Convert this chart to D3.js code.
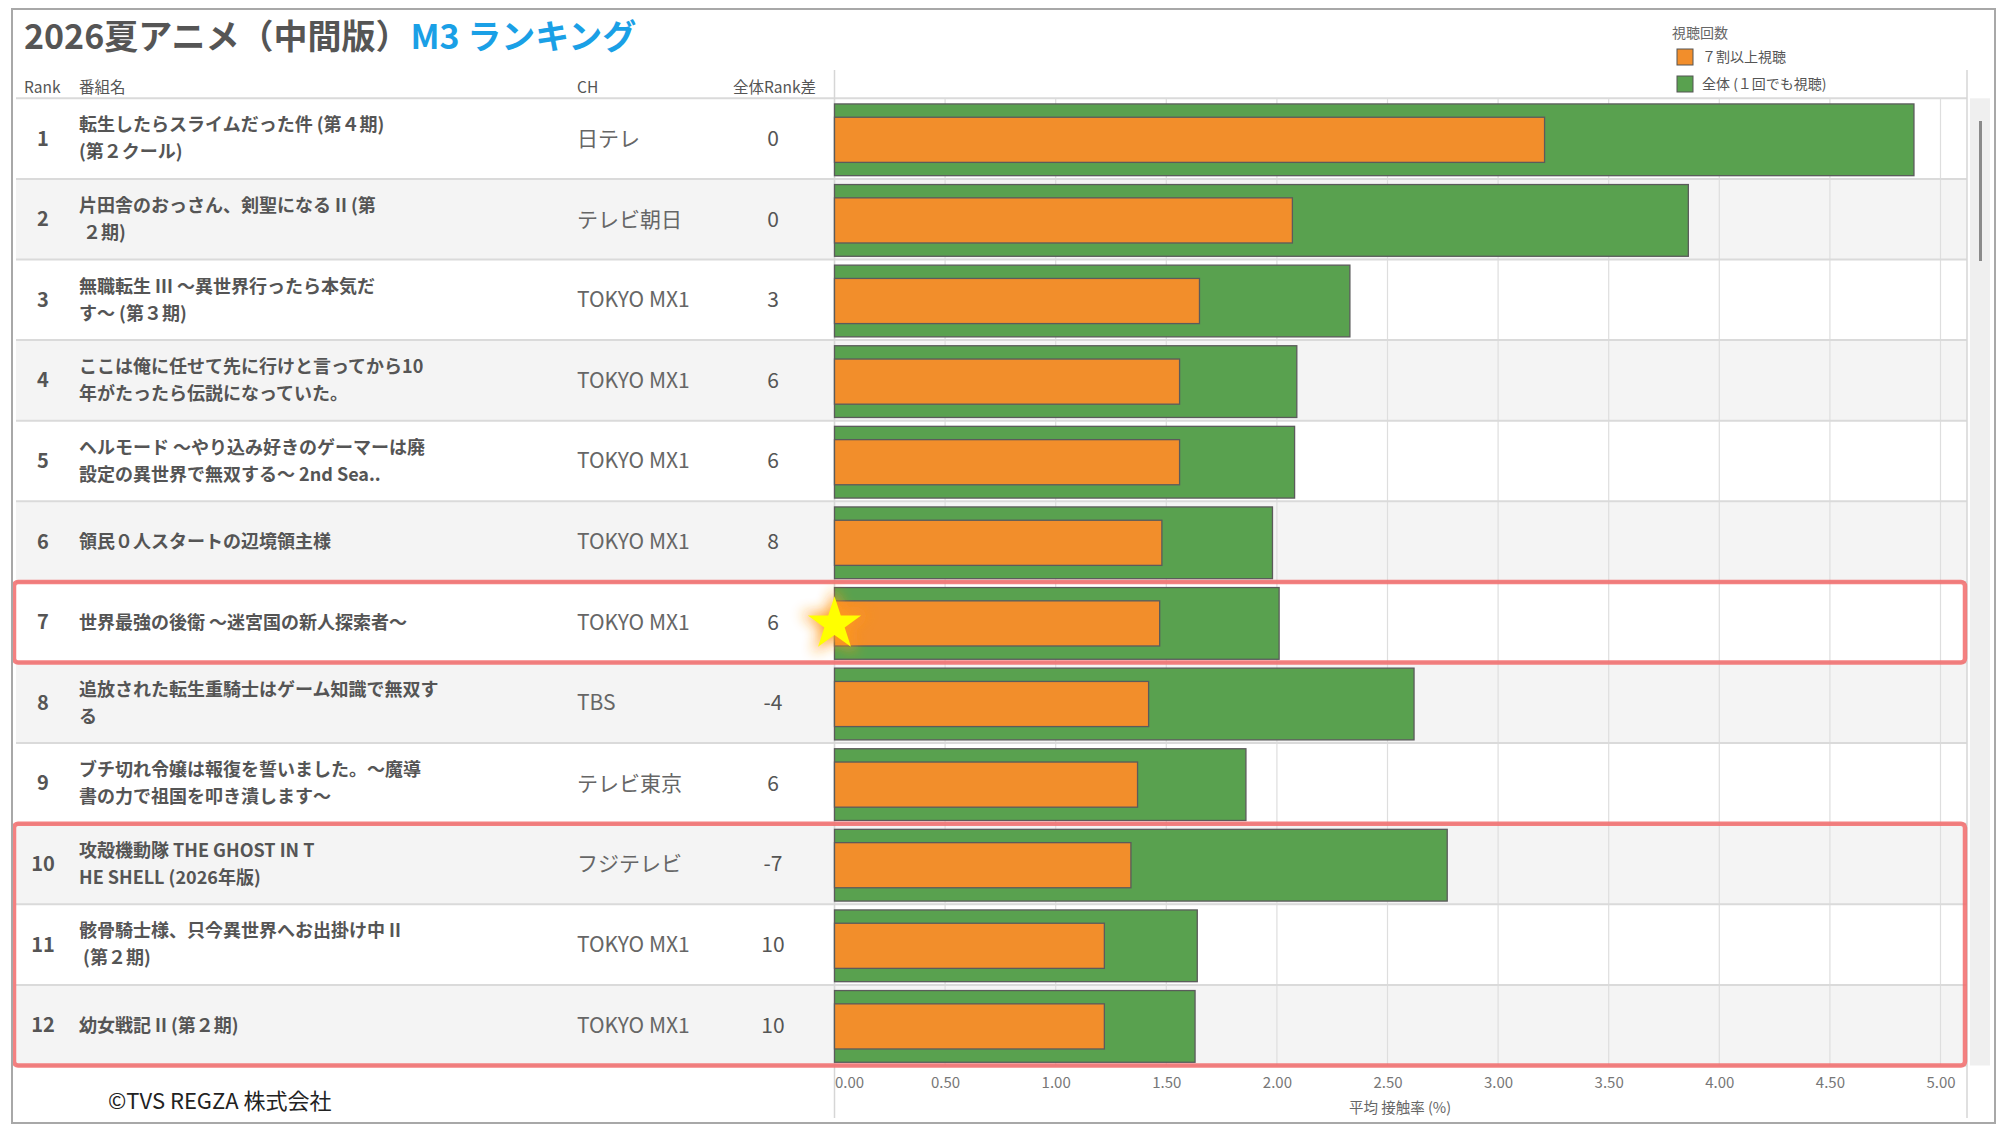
<!DOCTYPE html>
<html>
<head>
<meta charset="utf-8">
<title>2026夏アニメ M3 ランキング</title>
<style>
  body { margin: 0; background: #fff; }
  svg text { font-family: "Noto Sans CJK JP", "Noto Sans", sans-serif; }
</style>
</head>
<body>
<div id="chart"></div>
<script src="https://cdn.jsdelivr.net/npm/d3@7/dist/d3.min.js"></script>
<script>
// ---- data ----
var ranks = [1, 2, 3, 4, 5, 6, 7, 8, 9, 10, 11, 12];
var titles = [
  ["転生したらスライムだった件 (第４期)", "(第２クール)"],
  ["片田舎のおっさん、剣聖になる II (第", " ２期)"],
  ["無職転生 III ～異世界行ったら本気だ", "す～ (第３期)"],
  ["ここは俺に任せて先に行けと言ってから10", "年がたったら伝説になっていた。"],
  ["ヘルモード ～やり込み好きのゲーマーは廃", "設定の異世界で無双する～ 2nd Sea.."],
  ["領民０人スタートの辺境領主様"],
  ["世界最強の後衛 ～迷宮国の新人探索者～"],
  ["追放された転生重騎士はゲーム知識で無双す", "る"],
  ["ブチ切れ令嬢は報復を誓いました。～魔導", "書の力で祖国を叩き潰します～"],
  ["攻殻機動隊 THE GHOST IN T", "HE SHELL (2026年版)"],
  ["骸骨騎士様、只今異世界へお出掛け中 II", " (第２期)"],
  ["幼女戦記 II (第２期)"]
];
var channels = ["日テレ", "テレビ朝日", "TOKYO MX1", "TOKYO MX1", "TOKYO MX1", "TOKYO MX1",
                "TOKYO MX1", "TBS", "テレビ東京", "フジテレビ", "TOKYO MX1", "TOKYO MX1"];
var rankDiff = [0, 0, 3, 6, 6, 8, 6, -4, 6, -7, 10, 10];
var over70 = [3.21, 2.07, 1.65, 1.56, 1.56, 1.48, 1.47, 1.42, 1.37, 1.34, 1.22, 1.22];   // 7割以上視聴
var overall = [4.88, 3.86, 2.33, 2.09, 2.08, 1.98, 2.01, 2.62, 1.86, 2.77, 1.64, 1.63];  // 全体
var xTicks = [0, 0.5, 1, 1.5, 2, 2.5, 3, 3.5, 4, 4.5, 5];
var seriesNames = ["７割以上視聴", "全体 (１回でも視聴)"];
var highlights = [[7, 7], [10, 12]];
var starRank = 7;

var colors = { over70: "#f28e2b", overall: "#59a14f" };

var W = 1999, H = 1128;
var tblL = 16, paneL = 834.5, paneR = 1967, rowTop = 98.3, rowBot = 1065.5;

var svg = d3.select("#chart").append("svg")
    .attr("width", W).attr("height", H);

var x = d3.scaleLinear().domain([0, 5]).range([paneL, 1940.5]);
var y = d3.scaleBand().domain(ranks).range([rowTop, rowBot]);
var bh = y.bandwidth();

var rows = ranks.map(function(r, i) {
  return { rank: r, title: titles[i], ch: channels[i], diff: rankDiff[i], o70: over70[i], all: overall[i] };
});

// row backgrounds
svg.append("g").selectAll("rect").data(rows).enter().append("rect")
  .attr("x", tblL).attr("width", paneR - tblL)
  .attr("y", function(d) { return y(d.rank); })
  .attr("height", bh)
  .attr("fill", function(d) { return d.rank % 2 == 0 ? "#f4f4f4" : "#fff"; });

// scrollbar strip
svg.append("rect").attr("x", 1970).attr("y", rowTop).attr("width", 20).attr("height", rowBot - rowTop).attr("fill", "#efefef");
svg.append("rect").attr("x", 1979).attr("y", 121).attr("width", 3).attr("height", 140).attr("fill", "#8a8a8a");

// gridlines
svg.append("g").selectAll("line").data(xTicks).enter().append("line")
  .attr("x1", function(d) { return x(d); }).attr("x2", function(d) { return x(d); })
  .attr("y1", rowTop).attr("y2", rowBot)
  .attr("stroke", "#dedede").attr("stroke-width", 1.2);

// row separators
svg.append("g").selectAll("line").data([rowTop].concat(ranks.map(function(r) { return y(r) + bh; })))
  .enter().append("line")
  .attr("x1", tblL).attr("x2", paneR)
  .attr("y1", function(d) { return d; }).attr("y2", function(d) { return d; })
  .attr("stroke", "#dadada").attr("stroke-width", 2);

// pane borders
svg.append("line").attr("x1", paneL).attr("x2", paneL).attr("y1", 70).attr("y2", 1118).attr("stroke", "#d6d6d6").attr("stroke-width", 1.5);
svg.append("line").attr("x1", paneR).attr("x2", paneR).attr("y1", 70).attr("y2", 1118).attr("stroke", "#d6d6d6").attr("stroke-width", 1.5);

// bars
var bars = svg.append("g");
bars.selectAll(".g-bar").data(rows).enter().append("rect")
  .attr("class", "g-bar")
  .attr("x", x(0))
  .attr("y", function(d) { return y(d.rank) + bh * 0.07; })
  .attr("width", function(d) { return x(d.all) - x(0); })
  .attr("height", bh * 0.89)
  .attr("fill", colors.overall).attr("stroke", "#5b5b5b").attr("stroke-width", 1.3);
bars.selectAll(".o-bar").data(rows).enter().append("rect")
  .attr("class", "o-bar")
  .attr("x", x(0))
  .attr("y", function(d) { return y(d.rank) + bh * 0.235; })
  .attr("width", function(d) { return x(d.o70) - x(0); })
  .attr("height", bh * 0.56)
  .attr("fill", colors.over70).attr("stroke", "#5b5b5b").attr("stroke-width", 1.3);

// table text
var tbl = svg.append("g");
tbl.selectAll(".rk").data(rows).enter().append("text")
  .attr("x", 43).attr("y", function(d) { return y(d.rank) + bh / 2; })
  .attr("dy", "0.35em").attr("text-anchor", "middle")
  .attr("font-size", 20).attr("font-weight", 700).attr("fill", "#555")
  .text(function(d) { return d.rank; });

rows.forEach(function(d) {
  var cy = y(d.rank) + bh / 2;
  var n = d.title.length;
  d.title.forEach(function(line, k) {
    tbl.append("text")
      .attr("x", 79)
      .attr("y", cy + (n == 1 ? 0 : (k == 0 ? -13.5 : 13.5)))
      .attr("dy", "0.35em")
      .attr("font-size", 18).attr("font-weight", 700).attr("fill", "#555")
      .style("white-space", "pre")
      .text(line);
  });
});

tbl.selectAll(".ch").data(rows).enter().append("text")
  .attr("x", 577).attr("y", function(d) { return y(d.rank) + bh / 2; })
  .attr("dy", "0.35em")
  .attr("font-size", 21).attr("fill", "#666")
  .text(function(d) { return d.ch; });

tbl.selectAll(".df").data(rows).enter().append("text")
  .attr("x", 773).attr("y", function(d) { return y(d.rank) + bh / 2; })
  .attr("dy", "0.35em").attr("text-anchor", "middle")
  .attr("font-size", 21).attr("fill", "#555")
  .text(function(d) { return d.diff; });

// header
var hdr = svg.append("g").attr("font-size", 15.5).attr("fill", "#555");
hdr.append("text").attr("x", 24).attr("y", 88).attr("dy", "0.35em").text("Rank");
hdr.append("text").attr("x", 79).attr("y", 88).attr("dy", "0.35em").text("番組名");
hdr.append("text").attr("x", 577).attr("y", 88).attr("dy", "0.35em").text("CH");
hdr.append("text").attr("x", 816).attr("y", 88).attr("dy", "0.35em").attr("text-anchor", "end").text("全体Rank差");

// title
var ttl = svg.append("text").attr("x", 24).attr("y", 37).attr("dy", "0.35em")
  .attr("font-size", 34).attr("font-weight", 700);
ttl.append("tspan").attr("fill", "#555").text("2026夏アニメ（中間版）");
ttl.append("tspan").attr("fill", "#1aa0e6").attr("dx", 1).text("M3 ランキング");

// legend
var lg = svg.append("g");
lg.append("text").attr("x", 1672).attr("y", 33).attr("dy", "0.35em").attr("font-size", 14).attr("fill", "#666").text("視聴回数");
var lgItems = [colors.over70, colors.overall];
lg.selectAll(".sw").data(lgItems).enter().append("rect")
  .attr("x", 1677).attr("y", function(d, i) { return 49 + i * 27; })
  .attr("width", 16).attr("height", 16)
  .attr("fill", function(d) { return d; }).attr("stroke", "#555").attr("stroke-width", 1);
lg.selectAll(".lt").data(seriesNames).enter().append("text")
  .attr("x", 1702).attr("y", function(d, i) { return 57 + i * 27; })
  .attr("dy", "0.35em").attr("font-size", 14).attr("fill", "#555")
  .text(function(d) { return d; });

// x axis
var xAxis = d3.axisBottom(x).tickValues(xTicks).tickFormat(d3.format(".2f")).tickSize(0).tickPadding(0);
var ax = svg.append("g").attr("transform", "translate(0,1077)").call(xAxis);
ax.select(".domain").remove();
ax.selectAll(".tick text").attr("font-size", 15).attr("fill", "#777")
  .attr("font-family", "'Noto Sans CJK JP', 'Noto Sans', sans-serif");
ax.selectAll(".tick text").filter(function(d) { return d == 0; }).attr("text-anchor", "start");
svg.append("text").attr("x", 1400).attr("y", 1108).attr("dy", "0.35em").attr("text-anchor", "middle")
  .attr("font-size", 14.5).attr("fill", "#666").text("平均 接触率 (%)");

// copyright
svg.append("text").attr("x", 108).attr("y", 1101).attr("dy", "0.35em")
  .attr("font-size", 22).attr("fill", "#222").text("©TVS REGZA 株式会社");

// highlight boxes
svg.append("g").selectAll("rect").data(highlights).enter().append("rect")
  .attr("x", 14).attr("width", 1951)
  .attr("y", function(d) { return y(d[0]); })
  .attr("height", function(d) { return y(d[1]) + bh - y(d[0]); })
  .attr("rx", 4)
  .attr("fill", "none").attr("stroke", "#f26b6b").attr("stroke-opacity", 0.85).attr("stroke-width", 4.5);

// star with glow
var defs = svg.append("defs");
defs.append("filter").attr("id", "glow").attr("x", "-50%").attr("y", "-50%").attr("width", "200%").attr("height", "200%")
  .append("feGaussianBlur").attr("stdDeviation", 7);
function starPath(R) {
  var r = R * 0.382, pts = [];
  for (var i = 0; i < 10; i++) {
    var a = -Math.PI / 2 + i * Math.PI / 5, rr = i % 2 ? r : R;
    pts.push([rr * Math.cos(a), rr * Math.sin(a)]);
  }
  return "M" + pts.join("L") + "Z";
}
var st = svg.append("g").attr("transform", "translate(" + x(0) + "," + (y(starRank) + bh / 2 + 2) + ")");
st.append("path").attr("d", starPath(36)).attr("fill", "#ff9a1e").attr("opacity", 0.95).attr("filter", "url(#glow)");
st.append("path").attr("d", starPath(28)).attr("fill", "#ffff00");

// outer frame
svg.append("rect").attr("x", 12).attr("y", 9).attr("width", 1983).attr("height", 1114)
  .attr("fill", "none").attr("stroke", "#a8a8a8").attr("stroke-width", 2);
</script>
</body>
</html>
